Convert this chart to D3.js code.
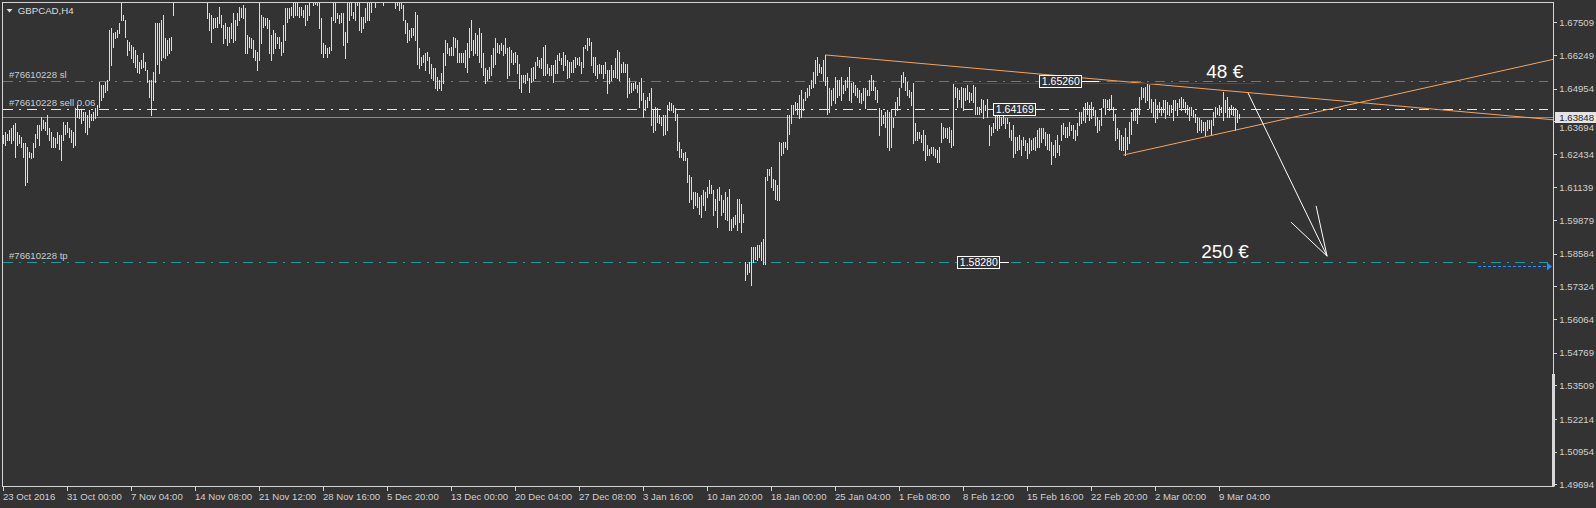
<!DOCTYPE html>
<html><head><meta charset="utf-8">
<script src="https://cdn.jsdelivr.net/npm/d3@7"></script>
<style>html,body{margin:0;padding:0;background:#333333;}svg{display:block;}</style>
</head><body>
<svg id="chart" width="1596" height="508"></svg>
<script>
// ---- data ----
const symbolTitle = "GBPCAD,H4";
const barHigh = [
1.6316,1.6329,1.6322,1.6335,1.6342,1.6354,1.6361,1.6329,1.6316,1.6309,
1.6284,1.6284,1.6271,1.6251,1.6245,1.6284,1.6322,1.6354,1.6354,1.6387,
1.6374,1.6367,1.6393,1.6342,1.6329,1.6309,1.6303,1.6329,1.6316,1.6316,
1.6367,1.6354,1.6367,1.6342,1.6335,1.6329,1.6419,1.6432,1.6412,1.6412,
1.6406,1.6406,1.6393,1.6412,1.6399,1.6406,1.6419,1.6432,1.6522,1.6509,
1.6509,1.6522,1.6528,1.6721,1.6728,1.6708,1.6715,1.6721,1.6747,1.6850,
1.6779,1.6760,1.6683,1.6676,1.6663,1.6657,1.6644,1.6625,1.6599,1.6605,
1.6631,1.6599,1.6567,1.6528,1.6528,1.6560,1.6747,1.6747,1.6747,1.6760,
1.6779,1.6689,1.6683,1.6689,1.6695,1.6870,1.6905,1.6930,1.6955,1.6948,
1.6972,1.6990,1.6965,1.6940,1.6958,1.6925,1.6910,1.6935,1.6920,1.6898,
1.6885,1.6880,1.6862,1.6786,1.6779,1.6766,1.6766,1.6773,1.6811,1.6779,
1.6740,1.6747,1.6734,1.6734,1.6747,1.6786,1.6760,1.6786,1.6811,1.6805,
1.6818,1.6805,1.6702,1.6695,1.6689,1.6683,1.6644,1.6638,1.6860,1.6779,
1.6773,1.6766,1.6766,1.6760,1.6702,1.6721,1.6708,1.6695,1.6695,1.6676,
1.6740,1.6805,1.6805,1.6805,1.6811,1.6845,1.6840,1.6848,1.6811,1.6811,
1.6798,1.6818,1.6818,1.6842,1.6875,1.6868,1.6860,1.6858,1.6845,1.6766,
1.6670,1.6663,1.6650,1.6657,1.6773,1.6850,1.6845,1.6786,1.6779,1.6786,
1.6786,1.6715,1.6855,1.6850,1.6845,1.6792,1.6848,1.6880,1.6852,1.6773,
1.6773,1.6805,1.6850,1.6848,1.6855,1.6900,1.6880,1.6910,1.6925,1.6905,
1.6890,1.6915,1.6930,1.6945,1.6920,1.6900,1.6885,1.6880,1.6870,1.6862,
1.6818,1.6760,1.6747,1.6721,1.6728,1.6728,1.6792,1.6779,1.6650,1.6618,
1.6625,1.6631,1.6638,1.6618,1.6592,1.6573,1.6573,1.6541,1.6528,1.6554,
1.6631,1.6683,1.6670,1.6650,1.6657,1.6695,1.6689,1.6683,1.6631,1.6631,
1.6631,1.6644,1.6670,1.6728,1.6760,1.6683,1.6708,1.6702,1.6728,1.6708,
1.6631,1.6573,1.6567,1.6580,1.6625,1.6650,1.6689,1.6670,1.6663,1.6670,
1.6663,1.6689,1.6650,1.6657,1.6644,1.6631,1.6638,1.6625,1.6592,1.6547,
1.6547,1.6547,1.6554,1.6535,1.6573,1.6580,1.6599,1.6618,1.6605,1.6612,
1.6657,1.6663,1.6592,1.6573,1.6586,1.6586,1.6605,1.6625,1.6631,1.6612,
1.6638,1.6625,1.6605,1.6599,1.6599,1.6605,1.6618,1.6612,1.6618,1.6599,
1.6657,1.6663,1.6689,1.6689,1.6676,1.6618,1.6618,1.6586,1.6592,1.6586,
1.6586,1.6599,1.6567,1.6567,1.6586,1.6567,1.6612,1.6644,1.6638,1.6592,
1.6599,1.6592,1.6592,1.6535,1.6515,1.6515,1.6522,1.6509,1.6522,1.6535,
1.6477,1.6451,1.6464,1.6477,1.6496,1.6412,1.6425,1.6419,1.6393,1.6387,
1.6393,1.6393,1.6432,1.6444,1.6438,1.6432,1.6419,1.6399,1.6290,1.6264,
1.6245,1.6251,1.6226,1.6161,1.6155,1.6097,1.6097,1.6091,1.6078,1.6084,
1.6103,1.6097,1.6116,1.6142,1.6123,1.6103,1.6071,1.6110,1.6116,1.6084,
1.6065,1.6097,1.6078,1.6110,1.5994,1.6000,1.6007,1.6071,1.6071,1.6052,
1.6013,1.5827,1.5820,1.5827,1.5885,1.5885,1.5885,1.5891,1.5891,1.5904,
1.5917,1.6155,1.6187,1.6187,1.6193,1.6148,1.6142,1.6123,1.6290,1.6284,
1.6290,1.6290,1.6393,1.6393,1.6432,1.6432,1.6444,1.6438,1.6470,1.6490,
1.6457,1.6483,1.6496,1.6509,1.6528,1.6560,1.6605,1.6618,1.6592,1.6580,
1.6605,1.6625,1.6541,1.6496,1.6490,1.6496,1.6541,1.6528,1.6528,1.6541,
1.6509,1.6528,1.6541,1.6580,1.6515,1.6522,1.6509,1.6496,1.6490,1.6477,
1.6496,1.6496,1.6490,1.6528,1.6547,1.6528,1.6502,1.6490,1.6419,1.6412,
1.6393,1.6406,1.6412,1.6406,1.6412,1.6380,1.6444,1.6464,1.6496,1.6547,
1.6560,1.6541,1.6522,1.6490,1.6483,1.6515,1.6361,1.6329,1.6329,1.6316,
1.6335,1.6316,1.6277,1.6264,1.6271,1.6271,1.6264,1.6258,1.6271,1.6361,
1.6348,1.6342,1.6342,1.6348,1.6335,1.6515,1.6502,1.6496,1.6490,1.6502,
1.6496,1.6496,1.6509,1.6483,1.6477,1.6509,1.6502,1.6425,1.6425,1.6457,
1.6451,1.6432,1.6457,1.6354,1.6348,1.6361,1.6412,1.6399,1.6412,1.6387,
1.6393,1.6380,1.6380,1.6367,1.6335,1.6354,1.6309,1.6309,1.6316,1.6296,
1.6309,1.6296,1.6284,1.6303,1.6296,1.6303,1.6309,1.6335,1.6342,1.6342,
1.6342,1.6329,1.6322,1.6322,1.6290,1.6277,1.6296,1.6316,1.6277,1.6354,
1.6361,1.6348,1.6348,1.6367,1.6354,1.6354,1.6335,1.6361,1.6406,1.6406,
1.6425,1.6438,1.6444,1.6432,1.6444,1.6425,1.6412,1.6387,1.6374,1.6419,
1.6457,1.6457,1.6451,1.6457,1.6470,1.6425,1.6399,1.6342,1.6335,1.6316,
1.6309,1.6342,1.6309,1.6367,1.6406,1.6412,1.6419,1.6419,1.6464,1.6502,
1.6496,1.6502,1.6515,1.6509,1.6457,1.6444,1.6457,1.6432,1.6444,1.6425,
1.6451,1.6451,1.6444,1.6432,1.6432,1.6451,1.6451,1.6438,1.6457,1.6464,
1.6457,1.6444,1.6432,1.6425,1.6425,1.6412,1.6399,1.6387,1.6380,1.6374,
1.6367,1.6367,1.6374,1.6374,1.6374,1.6406,1.6425,1.6419,1.6432,1.6425,
1.6483,1.6451,1.6464,1.6425,1.6432,1.6425,1.6419,1.6412,1.6399
];
const barLow = [
1.6284,1.6277,1.6296,1.6296,1.6284,1.6296,1.6232,1.6277,1.6284,1.6271,
1.6232,1.6123,1.6136,1.6232,1.6226,1.6232,1.6271,1.6303,1.6277,1.6335,
1.6342,1.6335,1.6322,1.6296,1.6271,1.6271,1.6271,1.6284,1.6264,1.6219,
1.6296,1.6322,1.6329,1.6309,1.6290,1.6271,1.6277,1.6387,1.6380,1.6361,
1.6374,1.6329,1.6322,1.6348,1.6374,1.6374,1.6380,1.6393,1.6425,1.6451,
1.6464,1.6483,1.6490,1.6528,1.6586,1.6657,1.6689,1.6695,1.6708,1.6760,
1.6760,1.6695,1.6625,1.6644,1.6612,1.6599,1.6580,1.6560,1.6554,1.6573,
1.6580,1.6567,1.6522,1.6464,1.6393,1.6451,1.6522,1.6592,1.6554,1.6605,
1.6618,1.6612,1.6625,1.6631,1.6644,1.6779,1.6845,1.6880,1.6900,1.6905,
1.6920,1.6935,1.6915,1.6890,1.6910,1.6870,1.6862,1.6885,1.6868,1.6850,
1.6842,1.6835,1.6766,1.6721,1.6676,1.6728,1.6734,1.6734,1.6747,1.6734,
1.6670,1.6689,1.6663,1.6676,1.6689,1.6676,1.6683,1.6740,1.6760,1.6773,
1.6766,1.6631,1.6631,1.6657,1.6650,1.6618,1.6605,1.6567,1.6605,1.6670,
1.6734,1.6740,1.6728,1.6631,1.6605,1.6631,1.6650,1.6670,1.6650,1.6625,
1.6638,1.6683,1.6753,1.6766,1.6779,1.6773,1.6779,1.6779,1.6773,1.6779,
1.6773,1.6740,1.6760,1.6779,1.6831,1.6818,1.6822,1.6818,1.6728,1.6631,
1.6618,1.6631,1.6618,1.6631,1.6644,1.6760,1.6753,1.6766,1.6747,1.6753,
1.6663,1.6612,1.6676,1.6760,1.6779,1.6766,1.6760,1.6818,1.6721,1.6715,
1.6728,1.6753,1.6760,1.6760,1.6792,1.6840,1.6811,1.6845,1.6860,1.6850,
1.6818,1.6850,1.6870,1.6885,1.6860,1.6842,1.6805,1.6818,1.6798,1.6805,
1.6760,1.6708,1.6676,1.6683,1.6695,1.6702,1.6683,1.6592,1.6573,1.6586,
1.6599,1.6567,1.6605,1.6554,1.6535,1.6528,1.6496,1.6490,1.6496,1.6490,
1.6515,1.6586,1.6631,1.6625,1.6625,1.6625,1.6657,1.6599,1.6599,1.6599,
1.6599,1.6580,1.6560,1.6618,1.6644,1.6625,1.6631,1.6625,1.6599,1.6580,
1.6547,1.6515,1.6528,1.6535,1.6547,1.6580,1.6592,1.6638,1.6631,1.6644,
1.6625,1.6631,1.6535,1.6547,1.6599,1.6592,1.6599,1.6554,1.6496,1.6483,
1.6522,1.6515,1.6528,1.6483,1.6522,1.6528,1.6535,1.6586,1.6580,1.6573,
1.6547,1.6547,1.6554,1.6547,1.6547,1.6522,1.6554,1.6554,1.6605,1.6592,
1.6567,1.6586,1.6535,1.6541,1.6560,1.6560,1.6580,1.6592,1.6586,1.6554,
1.6580,1.6650,1.6644,1.6663,1.6586,1.6560,1.6547,1.6535,1.6554,1.6554,
1.6535,1.6554,1.6477,1.6515,1.6528,1.6541,1.6541,1.6535,1.6528,1.6560,
1.6560,1.6560,1.6464,1.6477,1.6483,1.6490,1.6496,1.6483,1.6425,1.6451,
1.6387,1.6412,1.6425,1.6451,1.6354,1.6329,1.6335,1.6367,1.6361,1.6354,
1.6316,1.6322,1.6335,1.6412,1.6412,1.6406,1.6374,1.6258,1.6232,1.6232,
1.6219,1.6219,1.6136,1.6058,1.6071,1.6033,1.6046,1.6039,1.6013,1.6000,
1.6046,1.6026,1.6078,1.6091,1.6091,1.6007,1.6026,1.5962,1.6065,1.6007,
1.6020,1.5994,1.5988,1.5949,1.5949,1.5962,1.5975,1.5949,1.5981,1.5943,
1.5981,1.5756,1.5782,1.5788,1.5737,1.5827,1.5840,1.5833,1.5846,1.5833,
1.5820,1.5820,1.6142,1.6161,1.6116,1.6103,1.6071,1.6065,1.6065,1.6239,
1.6245,1.6271,1.6264,1.6322,1.6361,1.6399,1.6412,1.6399,1.6380,1.6387,
1.6412,1.6451,1.6464,1.6470,1.6496,1.6502,1.6515,1.6547,1.6560,1.6554,
1.6528,1.6509,1.6399,1.6406,1.6432,1.6451,1.6438,1.6464,1.6470,1.6451,
1.6477,1.6490,1.6502,1.6451,1.6444,1.6483,1.6470,1.6464,1.6444,1.6438,
1.6451,1.6419,1.6470,1.6470,1.6490,1.6490,1.6457,1.6444,1.6316,1.6354,
1.6361,1.6348,1.6271,1.6258,1.6271,1.6348,1.6393,1.6412,1.6432,1.6502,
1.6522,1.6490,1.6470,1.6464,1.6432,1.6284,1.6296,1.6296,1.6303,1.6290,
1.6258,1.6219,1.6239,1.6239,1.6245,1.6239,1.6232,1.6213,1.6213,1.6290,
1.6303,1.6309,1.6303,1.6290,1.6271,1.6277,1.6464,1.6425,1.6457,1.6425,
1.6412,1.6451,1.6457,1.6444,1.6451,1.6444,1.6399,1.6399,1.6399,1.6406,
1.6380,1.6412,1.6387,1.6277,1.6316,1.6329,1.6342,1.6335,1.6342,1.6354,
1.6361,1.6342,1.6361,1.6309,1.6296,1.6232,1.6245,1.6258,1.6264,1.6239,
1.6277,1.6258,1.6226,1.6245,1.6258,1.6264,1.6258,1.6271,1.6271,1.6290,
1.6303,1.6277,1.6264,1.6258,1.6206,1.6239,1.6232,1.6251,1.6239,1.6296,
1.6322,1.6309,1.6309,1.6316,1.6335,1.6303,1.6296,1.6316,1.6354,1.6361,
1.6374,1.6367,1.6399,1.6374,1.6380,1.6393,1.6354,1.6329,1.6335,1.6354,
1.6425,1.6399,1.6425,1.6412,1.6419,1.6374,1.6296,1.6303,1.6264,1.6258,
1.6258,1.6239,1.6264,1.6284,1.6322,1.6374,1.6374,1.6361,1.6399,1.6457,
1.6464,1.6444,1.6451,1.6419,1.6406,1.6387,1.6367,1.6380,1.6406,1.6393,
1.6406,1.6380,1.6399,1.6393,1.6406,1.6374,1.6412,1.6393,1.6425,1.6412,
1.6425,1.6406,1.6399,1.6374,1.6393,1.6387,1.6367,1.6329,1.6335,1.6329,
1.6335,1.6316,1.6335,1.6342,1.6316,1.6354,1.6387,1.6399,1.6393,1.6406,
1.6374,1.6406,1.6387,1.6387,1.6399,1.6393,1.6335,1.6367,1.6380
];
const priceTicks = [1.67509,1.66249,1.64954,1.63694,1.62434,1.61139,1.59879,1.58584,1.57324,1.56064,1.54769,1.53509,1.52214,1.50954,1.49694];
const dateLabels = ["23 Oct 2016","31 Oct 00:00","7 Nov 04:00","14 Nov 08:00","21 Nov 12:00","28 Nov 16:00","5 Dec 20:00","13 Dec 00:00","20 Dec 04:00","27 Dec 08:00","3 Jan 16:00","10 Jan 20:00","18 Jan 00:00","25 Jan 04:00","1 Feb 08:00","8 Feb 12:00","15 Feb 16:00","22 Feb 20:00","2 Mar 00:00","9 Mar 04:00"];
const dateLabelBars = [0,32,64,96,128,160,192,224,256,288,320,352,384,416,448,480,512,544,576,608];
const orderId = "#76610228";
const slPrice = 1.65260, entryPrice = 1.64169, tpPrice = 1.58280, bidPrice = 1.63848, lots = 0.06;
const projPrice = 1.5813;
const lineDown = [[411,1.6625],[775,1.6375]];
const lineUp = [[560,1.6239],[775,1.6608]];
const redLine = [[475,1.6515],[626,1.6515]];
const arrowLine = [[622.4,1.6478],[661.9,1.5849]];
const arrowHead = [[656.4,1.6043],[661.9,1.5849],[643.9,1.5980]];
const noteTexts = [{t:"48 €",i:601.5,p:1.6536},{t:"250 €",i:599,p:1.5842}];
const priceBoxes = [{v:slPrice,i:518},{v:entryPrice,i:495},{v:tpPrice,i:477}];

// ---- drawing ----
const W=1596,H=508;
const L=2.5,R=1553.5,T=2.5,B=486.5;
const svg=d3.select("#chart");
const x=d3.scaleLinear().domain([0,775]).range([3.3,1553.3]);
const y=d3.scaleLinear().domain([1.67509,1.49694]).range([22.3,484.3]);
const FONT="'Liberation Sans',Arial,sans-serif";
const fg="#d4d4d4";

svg.append("rect").attr("width",W).attr("height",H).attr("fill","#333333");
svg.append("defs").append("clipPath").attr("id","plot").append("rect")
  .attr("x",L+0.5).attr("y",T+0.5).attr("width",R-L-1).attr("height",B-T-1);
const g=svg.append("g").attr("clip-path","url(#plot)");

// horizontal order lines
const dash="10,6,2,6";
function hline(p,color,dasharray,x2){
  const yy=Math.round(y(p))+0.5;
  g.append("line").attr("x1",L).attr("x2",x2).attr("y1",yy).attr("y2",yy)
   .attr("stroke",color).attr("stroke-width",1).attr("shape-rendering","crispEdges")
   .attr("stroke-dasharray",dasharray||null);
}
hline(bidPrice,"#8a8a8a",null,R);
hline(slPrice,"#1f9a9a",dash,1548);
hline(tpPrice,"#1f9a9a",dash,1548);
hline(entryPrice,"#e8e8e8",dash,1548);

// bars
g.append("g").selectAll("line").data(barHigh).join("line")
  .attr("x1",(d,i)=>Math.round(x(i))+0.5).attr("x2",(d,i)=>Math.round(x(i))+0.5)
  .attr("y1",d=>Math.round(y(d))).attr("y2",(d,i)=>Math.round(y(barLow[i]))+1)
  .attr("stroke","#dedede").attr("stroke-width",1).attr("shape-rendering","crispEdges");

// trend lines
const lineGen=d3.line().x(d=>x(d[0])).y(d=>y(d[1]));
g.append("path").attr("d",lineGen(lineDown)).attr("stroke","#f4a460").attr("fill","none").attr("stroke-width",1);
g.append("path").attr("d",lineGen(lineUp)).attr("stroke","#f4a460").attr("fill","none").attr("stroke-width",1);
g.append("path").attr("d",lineGen(redLine)).attr("stroke","#ee0000").attr("fill","none").attr("stroke-width",1).attr("shape-rendering","crispEdges");
g.append("path").attr("d",lineGen(arrowLine)).attr("stroke","#ffffff").attr("fill","none").attr("stroke-width",1);
g.append("path").attr("d",lineGen(arrowHead)).attr("stroke","#ffffff").attr("fill","none").attr("stroke-width",1);

// projection arrow (blue dotted)
{
  const yy=Math.round(y(projPrice))+0.5;
  g.append("line").attr("x1",1478).attr("x2",1548).attr("y1",yy).attr("y2",yy)
   .attr("stroke","#1e90ff").attr("stroke-dasharray","3,2").attr("shape-rendering","crispEdges");
  g.append("path").attr("d",`M1547,${yy-4}L1552,${yy}L1547,${yy+4}Z`).attr("fill","#1e90ff");
}

// price boxes on lines
priceBoxes.forEach(b=>{
  const cx=x(b.i), cy=y(b.v);
  const bw=42, bh=12;
  g.append("line").attr("x1",cx+bw).attr("x2",cx+bw+(b.v===slPrice?18:10))
   .attr("y1",Math.round(cy)+0.5).attr("y2",Math.round(cy)+0.5).attr("stroke","#ffffff").attr("shape-rendering","crispEdges");
  g.append("rect").attr("x",Math.round(cx)+0.5).attr("y",Math.round(cy-bh/2)+0.5).attr("width",bw).attr("height",bh)
   .attr("fill","#333333").attr("stroke","#ffffff").attr("shape-rendering","crispEdges");
  g.append("text").attr("x",cx+bw/2+0.5).attr("y",cy+4).attr("text-anchor","middle")
   .attr("fill","#ffffff").attr("font-family",FONT).attr("font-size","10.5px").text(b.v.toFixed(5));
});

// order labels
const lblFont="9.6px";
[[slPrice,orderId+" sl"],[entryPrice,orderId+" sell "+lots.toFixed(2)],[tpPrice,orderId+" tp"]].forEach(([p,t])=>{
  g.append("text").attr("x",9).attr("y",y(p)-2.5).attr("fill","#c8ccd0")
   .attr("font-family",FONT).attr("font-size",lblFont).text(t);
});

// note texts
noteTexts.forEach(n=>{
  g.append("text").attr("x",x(n.i)).attr("y",y(n.p)).attr("fill","#ffffff")
   .attr("font-family",FONT).attr("font-size","19px").text(n.t);
});

// title
svg.append("path").attr("d","M6.5,9L12.5,9L9.5,12.5Z").attr("fill","#e0e0e0");
svg.append("text").attr("x",17.7).attr("y",13.6).attr("fill","#dcdcdc")
  .attr("font-family",FONT).attr("font-size","9.7px").text(symbolTitle);

// frame
svg.append("rect").attr("x",L).attr("y",T).attr("width",R-L).attr("height",B-T)
  .attr("fill","none").attr("stroke",fg).attr("shape-rendering","crispEdges");
svg.append("rect").attr("x",1552).attr("y",374).attr("width",3).attr("height",B-374)
  .attr("fill","#d8d8d8");

// right axis
const ya=svg.append("g");
const bidY=y(bidPrice);
priceTicks.forEach(p=>{
  const yy=Math.round(y(p))+0.5;
  ya.append("line").attr("x1",R).attr("x2",R+3).attr("y1",yy).attr("y2",yy).attr("stroke",fg).attr("shape-rendering","crispEdges");
  // label that falls under the bid box is pushed just below it
  const ty = Math.abs(y(p)-bidY)<10 ? bidY+14 : y(p)+3.6;
  ya.append("text").attr("x",1559.3).attr("y",ty).attr("fill","#d0d0d0")
    .attr("font-family",FONT).attr("font-size","9.6px").text(p.toFixed(5));
});
// bid label
{
  ya.append("rect").attr("x",1555).attr("y",Math.round(bidY)-5).attr("width",41).attr("height",11).attr("fill","#e4e4e4");
  ya.append("text").attr("x",1559.3).attr("y",bidY+3.6).attr("fill","#1e1e1e")
    .attr("font-family",FONT).attr("font-size","9.6px").text(bidPrice.toFixed(5));
}

// bottom axis
const xa=svg.append("g");
dateLabels.forEach((t,k)=>{
  const xx=Math.round(x(dateLabelBars[k]))+0.5;
  xa.append("line").attr("x1",xx).attr("x2",xx).attr("y1",B).attr("y2",B+4).attr("stroke",fg).attr("shape-rendering","crispEdges");
  xa.append("text").attr("x",xx-0.5).attr("y",499.5).attr("fill","#d0d0d0")
    .attr("font-family",FONT).attr("font-size","9.6px").text(t);
});
</script>
</body></html>
